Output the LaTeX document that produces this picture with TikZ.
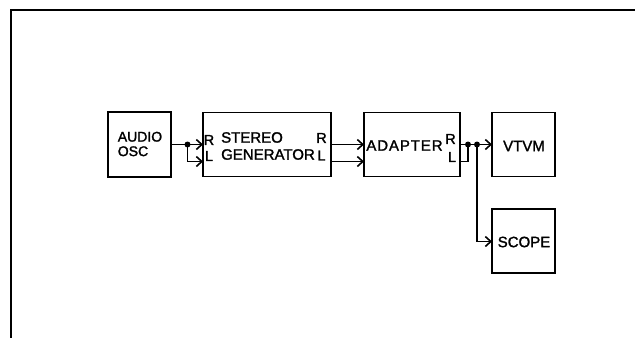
\documentclass[tikz,border=0pt]{standalone}
\usepackage{fontspec}
\setmainfont{Liberation Sans}[FakeBold=1.6]
\usetikzlibrary{arrows.meta}
\begin{document}
\begin{tikzpicture}[x=1pt,y=-1pt,
  blk/.style={draw,line width=1.7pt,inner sep=0pt},
  txt/.style={inner sep=0pt,align=left,font=\fontsize{15}{17}\selectfont},
  lbl/.style={inner sep=0pt,font=\fontsize{14.5}{15}\selectfont},
  wire/.style={line width=1.7pt},
  arr/.style={wire,-{Straight Barb[length=5.5pt,width=10pt,line width=1.6pt]}},
  jdot/.style={circle,fill,inner sep=0pt,minimum size=6pt}]
\useasboundingbox (0,0) rectangle (635,338);
% frame
\draw[line width=1.8pt] (635,10) -- (11,10) -- (11,338);
% boxes
\node[blk,minimum width=63pt,minimum height=65pt] (audio) at (139.5,144.5) {};
\node[blk,minimum width=128pt,minimum height=64pt] (stereo) at (267,144.5) {};
\node[blk,minimum width=96pt,minimum height=64pt] (adapter) at (412,144.5) {};
\node[blk,minimum width=63pt,minimum height=64pt] (vtvm) at (523.5,144.5) {};
\node[blk,minimum width=63pt,minimum height=64pt] (scope) at (523.5,241) {};
% texts
\node[txt,font=\fontsize{14}{14.5}\selectfont] (audiotext) at (140,144) {AUDIO\\OSC};
\node[txt,anchor=west] (stereotext) at (221,146) {STEREO\\GENERATOR};
\node[txt,font=\fontsize{15}{17}\selectfont\addfontfeature{LetterSpace=6}] (adtext) at (404.5,145.5) {ADAPTER};
\node[txt] (vtvmtext) at (524,146) {VTVM};
\node[txt] (scopetext) at (524,242) {SCOPE};
\node[lbl] (sRin) at (209,140) {R};
\node[lbl] (sLin) at (209,156) {L};
\node[lbl] (sRout) at (321.5,138) {R};
\node[lbl] (sLout) at (321.5,155.5) {L};
\node[lbl] (aRout) at (450.5,139) {R};
\node[lbl] (aLout) at (452,157) {L};
% ports
\coordinate (oscout) at (171,144.5);
\coordinate (d1) at (187.5,144.5);
\coordinate (sinR) at (203,144.5);
\coordinate (sinL) at (203,161.5);
\coordinate (soutR) at (331,144.5);
\coordinate (soutL) at (331,161.5);
\coordinate (ainR) at (364,144.5);
\coordinate (ainL) at (364,161.5);
\coordinate (aoutR) at (460,144.5);
\coordinate (aoutL) at (460,161.5);
\coordinate (d2) at (468,144.5);
\coordinate (d3) at (477,144.5);
\coordinate (vin) at (492,144.5);
\coordinate (scin) at (492,241.5);
% connectors
\draw[arr] (oscout) -- (sinR);
\draw[arr] (d1) |- (sinL);
\draw[arr] (soutR) -- (ainR);
\draw[arr] (soutL) -- (ainL);
\draw[arr] (aoutR) -- (vin);
\draw[wire] (aoutL) -| (d2);
\draw[arr] (d3) |- (scin);
\node[jdot] (j1) at (d1) {};
\node[jdot] (j2) at (d2) {};
\node[jdot] (j3) at (d3) {};
\end{tikzpicture}
\end{document}
